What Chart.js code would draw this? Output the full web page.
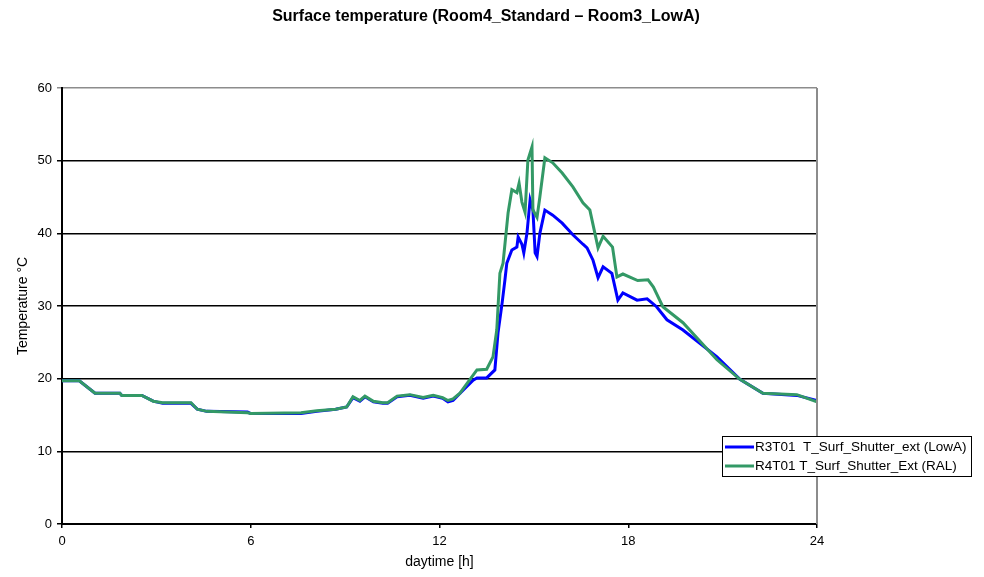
<!DOCTYPE html>
<html>
<head>
<meta charset="utf-8">
<script src="https://cdn.jsdelivr.net/npm/chart.js@4/dist/chart.umd.min.js"></script>
<style>
  html, body { margin: 0; padding: 0; background: #ffffff; }
  #wrap { width: 984px; height: 577px; position: relative; }
</style>
</head>
<body>
<div id="wrap"><canvas id="c" width="984" height="577"></canvas></div>
<script>
// ---- data ----
const chartTitle = "Surface temperature (Room4_Standard \u2013 Room3_LowA)";
const xAxisLabel = "daytime [h]";
const yAxisLabel = "Temperature \u00B0C";
const xTicks = [0, 6, 12, 18, 24];
const yTicks = [0, 10, 20, 30, 40, 50, 60];
const seriesNames = ["R3T01  T_Surf_Shutter_ext (LowA)", "R4T01 T_Surf_Shutter_Ext (RAL)"];

const timeLowA = [0, 0.55, 1.05, 1.84, 1.9, 2.54, 2.9, 3.2, 4.1, 4.3, 4.6, 5.9, 6.0, 7.6, 8.1, 8.7, 9.05, 9.25, 9.47, 9.63, 9.9, 10.2, 10.35, 10.65, 11.06, 11.48, 11.8, 12.1, 12.27, 12.43, 12.75, 13.07, 13.19, 13.5, 13.76, 13.86, 13.99, 14.08, 14.14, 14.3, 14.46, 14.5, 14.62, 14.68, 14.78, 14.88, 14.97, 15.04, 15.1, 15.19, 15.35, 15.6, 15.9, 16.24, 16.56, 16.69, 16.88, 17.04, 17.2, 17.48, 17.67, 17.83, 18.28, 18.6, 18.9, 19.23, 19.74, 20.82, 21.55, 22.28, 23.36, 24];
const tempLowA = [19.7, 19.7, 18.0, 18.0, 17.7, 17.7, 16.9, 16.6, 16.6, 15.8, 15.5, 15.4, 15.2, 15.2, 15.5, 15.8, 16.1, 17.4, 16.9, 17.5, 16.8, 16.6, 16.6, 17.5, 17.7, 17.3, 17.6, 17.3, 16.8, 17.0, 18.4, 19.8, 20.1, 20.1, 21.2, 26.3, 30.4, 33.6, 35.9, 37.7, 38.1, 39.5, 38.5, 37.3, 40.0, 44.6, 43.2, 37.3, 36.8, 40.0, 43.2, 42.5, 41.4, 39.8, 38.5, 38.0, 36.3, 33.9, 35.4, 34.5, 30.8, 31.8, 30.8, 31.0, 29.9, 28.1, 26.7, 23.0, 19.9, 18.0, 17.7, 17.0];

const timeRAL = [0, 0.55, 1.05, 1.84, 1.9, 2.54, 2.9, 3.2, 4.1, 4.3, 4.6, 5.9, 6.0, 7.6, 8.1, 8.7, 9.05, 9.25, 9.47, 9.63, 9.9, 10.2, 10.35, 10.65, 11.06, 11.48, 11.8, 12.1, 12.27, 12.43, 12.65, 13.19, 13.5, 13.7, 13.82, 13.92, 14.02, 14.18, 14.3, 14.46, 14.53, 14.62, 14.72, 14.81, 14.94, 14.97, 15.1, 15.19, 15.35, 15.6, 15.9, 16.24, 16.56, 16.78, 17.04, 17.2, 17.5, 17.64, 17.83, 18.3, 18.63, 18.8, 19.1, 19.74, 20.82, 21.55, 22.28, 23.36, 24];
const tempRAL = [19.7, 19.7, 18.0, 18.0, 17.7, 17.7, 16.9, 16.7, 16.7, 15.8, 15.5, 15.3, 15.2, 15.3, 15.6, 15.8, 16.1, 17.5, 17.0, 17.6, 16.9, 16.7, 16.7, 17.6, 17.8, 17.4, 17.7, 17.4, 17.0, 17.2, 18.0, 21.2, 21.3, 23.0, 26.7, 34.5, 35.9, 42.8, 46.0, 45.6, 46.9, 44.3, 42.9, 50.1, 51.9, 43.2, 42.2, 45.0, 50.4, 49.7, 48.3, 46.4, 44.2, 43.2, 38.0, 39.6, 38.1, 34.0, 34.4, 33.5, 33.6, 32.6, 29.9, 27.7, 22.6, 19.9, 18.0, 17.8, 16.8];

const colorLowA = "#0000FF";
const colorRAL = "#339966";

function toPoints(xs, ys) { return xs.map((x, i) => ({ x: x, y: ys[i] })); }

const FONT = '"Liberation Sans", Arial, sans-serif';

// custom plugin: title, gray right border and legend box
const framePlugin = {
  id: 'frame',
  afterDatasetsDraw(chart) {
    const { ctx, chartArea: a } = chart;
    ctx.save();
    ctx.strokeStyle = '#8c8c8c';
    ctx.lineWidth = 2;
    ctx.beginPath();
    ctx.moveTo(a.right, a.top);
    ctx.lineTo(a.right, a.bottom);
    ctx.stroke();
    ctx.restore();
  },
  afterDraw(chart) {
    const { ctx } = chart;
    ctx.save();
    // title
    ctx.fillStyle = '#000';
    ctx.font = 'bold 16px ' + FONT;
    ctx.textAlign = 'center';
    ctx.textBaseline = 'middle';
    ctx.fillText(chartTitle, 486, 17);
    // legend
    const bx = 722, by = 436, bw = 249, bh = 40;
    ctx.fillStyle = '#ffffff';
    ctx.fillRect(bx, by, bw, bh);
    ctx.strokeStyle = '#000000';
    ctx.lineWidth = 1;
    ctx.strokeRect(bx + 0.5, by + 0.5, bw, bh);
    ctx.font = '13.5px ' + FONT;
    ctx.textBaseline = 'middle';
    ctx.textAlign = 'left';
    chart.data.datasets.slice().sort((p, q) => p.legendIndex - q.legendIndex).forEach((ds, i) => {
      const yy = by + 11 + i * 19;
      ctx.strokeStyle = ds.borderColor;
      ctx.lineWidth = 3;
      ctx.beginPath();
      ctx.moveTo(bx + 3, yy);
      ctx.lineTo(bx + 32, yy);
      ctx.stroke();
      ctx.fillStyle = '#000000';
      ctx.fillText(ds.label, bx + 33, yy);
    });
    ctx.restore();
  }
};

new Chart(document.getElementById('c'), {
  type: 'line',
  data: {
    datasets: [
      { label: seriesNames[0], data: toPoints(timeLowA, tempLowA), borderColor: colorLowA, backgroundColor: colorLowA,
        borderWidth: 3, pointRadius: 0, tension: 0, order: 1, legendIndex: 0 },
      { label: seriesNames[1], data: toPoints(timeRAL, tempRAL), borderColor: colorRAL, backgroundColor: colorRAL,
        borderWidth: 3, pointRadius: 0, tension: 0, order: 0, legendIndex: 1 }
    ]
  },
  options: {
    responsive: false,
    animation: false,
    layout: { padding: { left: 0, right: 167, top: 88, bottom: 0 } },
    plugins: {
      legend: { display: false },
      tooltip: { enabled: false },
      title: { display: false }
    },
    scales: {
      x: {
        type: 'linear', min: 0, max: 24,
        afterBuildTicks(scale) { scale.ticks = xTicks.map(v => ({ value: v })); },
        afterFit(scale) { scale.height = 53; },
        ticks: { color: '#000', font: { family: FONT, size: 13 }, padding: 6, maxRotation: 0 },
        grid: { drawOnChartArea: false, drawTicks: true, tickLength: 4, color: '#000', lineWidth: 1.5 },
        border: { display: true, color: '#000', width: 2 },
        title: { display: true, text: xAxisLabel, color: '#000',
          font: { family: FONT, size: 14 }, padding: { top: 0, bottom: 6 } }
      },
      y: {
        type: 'linear', min: 0, max: 60,
        afterBuildTicks(scale) { scale.ticks = yTicks.map(v => ({ value: v })); },
        afterFit(scale) { scale.width = 62; },
        ticks: { color: '#000', font: { family: FONT, size: 13 }, padding: 5 },
        grid: { drawOnChartArea: true, drawTicks: true, tickLength: 5, lineWidth: 1.5,
          color: (c) => (c.tick && c.tick.value === 60) ? '#8c8c8c' : '#000' },
        border: { display: true, color: '#000', width: 2 },
        title: { display: true, text: yAxisLabel, color: '#000',
          font: { family: FONT, size: 14 }, padding: { top: 15, bottom: 0 } }
      }
    }
  },
  plugins: [framePlugin]
});
</script>
</body>
</html>
